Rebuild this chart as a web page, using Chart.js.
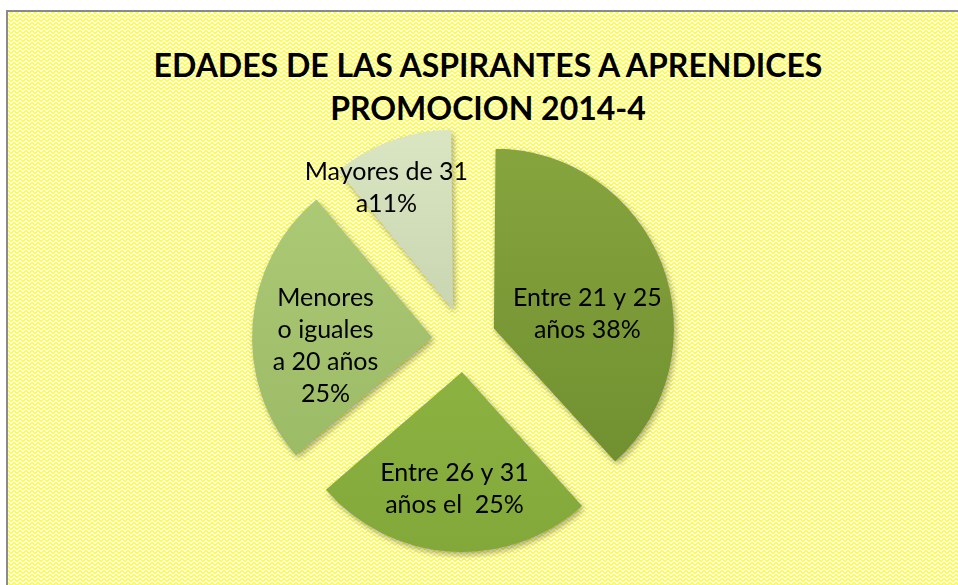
<!DOCTYPE html>
<html>
<head>
<meta charset="utf-8">
<script src="https://cdn.jsdelivr.net/npm/chart.js@4.4.1/dist/chart.umd.min.js"></script>
<style>
  html, body { margin: 0; padding: 0; background: #fff; width: 958px; height: 585px; overflow: hidden; }
  #marco { position: absolute; left: 6px; top: 10px; width: 1000px; height: 620px;
           border-left: 2px solid #8a8a8a; border-top: 2px solid #8a8a8a; }
  #titulo { position: absolute; left: 0; width: 976px; top: 43px; text-align: center;
            font: bold 32px Lato, sans-serif; line-height: 43px; color: #000; }
  #lienzo { position: absolute; left: 0; top: 0; width: 958px; height: 585px; }
</style>
</head>
<body>
<div id="marco"></div>
<div id="titulo">EDADES DE LAS ASPIRANTES A APRENDICES<br>PROMOCION 2014-4</div>
<div id="lienzo"><canvas id="pieChart" width="958" height="585"></canvas></div>
<script>
// Datos del grafico
const categorias = ["Entre 21 y 25 años", "Entre 26 y 31 años", "Menores o iguales a 20 años", "Mayores de 31"];
const porcentajes = [38, 25, 25, 11];
const etiquetas = [
    ["Entre 21 y 25", "años 38%"],
    ["Entre 26 y 31", "años el  25%"],
    ["Menores", "o iguales", "a 20 años", "25%"],
    ["Mayores de 31", "a11%"]
];

const coloresArriba = ["#87a63f", "#97be4b", "#b0cc78", "#dce7c4"];
const coloresAbajo = ["#6b8a2c", "#7fa637", "#96b660", "#b6c39d"];

const RADIO = 180;
const EXPLOSION = 128; // chart.js divide el offset entre 4 -> 32px

// fondo amarillo con zigzag
function crearFondo() {
    const t = document.createElement("canvas");
    t.width = 6; t.height = 4;
    const c = t.getContext("2d");
    c.fillStyle = "#ffff3c";
    c.fillRect(0, 0, 6, 4);
    c.fillStyle = "#ffffff";
    const alto = [0, 1, 2, 2, 1, 0];
    for (let x = 0; x < 6; x++) {
        for (let y = 0; y < 4; y++) {
            const k = ((y - alto[x]) % 4 + 4) % 4;
            if (k === 0 || k === 1) c.fillRect(x, y, 1, 1);
        }
    }
    document.getElementById("marco").style.backgroundImage = `url(${t.toDataURL()})`;
}
crearFondo();

function degradado(chart, i) {
    const g = chart.ctx.createLinearGradient(0, 140, 0, 560);
    g.addColorStop(0, coloresArriba[i]);
    g.addColorStop(1, coloresAbajo[i]);
    return g;
}

// mantiene el mismo radio en todas las porciones separadas
const radioPlugin = {
    id: "radioFijo",
    afterDatasetUpdate(chart, args) {
        args.meta.data.forEach(arc => {
            const fix = 1 - Math.sin(Math.min(Math.PI, arc.circumference || 0));
            arc.outerRadius = RADIO - (EXPLOSION / 4) * fix;
        });
    }
};

const sombraPlugin = {
    id: "sombra",
    beforeDatasetsDraw(chart) {
        const c = chart.ctx;
        c.save();
        c.shadowColor = "rgba(0,0,0,0.35)";
        c.shadowBlur = 7;
        c.shadowOffsetX = 2;
        c.shadowOffsetY = 3;
    },
    afterDatasetsDraw(chart) {
        chart.ctx.restore();
    }
};

const etiquetasPlugin = {
    id: "etiquetas",
    afterDatasetsDraw(chart, args, opts) {
        const c = chart.ctx;
        const meta = chart.getDatasetMeta(0);
        c.save();
        c.font = "25px Lato, sans-serif";
        c.fillStyle = "#000";
        c.textAlign = "center";
        c.textBaseline = "middle";
        meta.data.forEach((arc, i) => {
            const ang = (arc.startAngle + arc.endAngle) / 2 + opts.giro[i] * Math.PI / 180;
            const d = opts.distancia[i] * RADIO;
            const x = arc.x + Math.cos(ang) * d;
            const y = arc.y + Math.sin(ang) * d;
            const lineas = etiquetas[i];
            lineas.forEach((t, j) => {
                c.fillText(t, x, y + (j - (lineas.length - 1) / 2) * 32);
            });
        });
        c.restore();
    }
};

const chart = new Chart(document.getElementById("pieChart"), {
    type: "pie",
    data: {
        labels: categorias,
        datasets: [{
            data: porcentajes,
            backgroundColor: ctx => degradado(ctx.chart, ctx.dataIndex),
            borderWidth: 0,
            offset: EXPLOSION,
            hoverOffset: 0
        }]
    },
    options: {
        responsive: false,
        devicePixelRatio: 1,
        animation: false,
        radius: RADIO,
        layout: { padding: { left: 0, right: 30, top: 110, bottom: 15 } },
        plugins: {
            legend: { display: false },
            tooltip: { enabled: false },
            title: { display: false },
            etiquetas: {
                giro: [9, 0, -7, -7],
                distancia: [0.70, 0.83, 0.77, 0.95]
            }
        }
    },
    plugins: [radioPlugin, sombraPlugin, etiquetasPlugin]
});
</script>
</body>
</html>
